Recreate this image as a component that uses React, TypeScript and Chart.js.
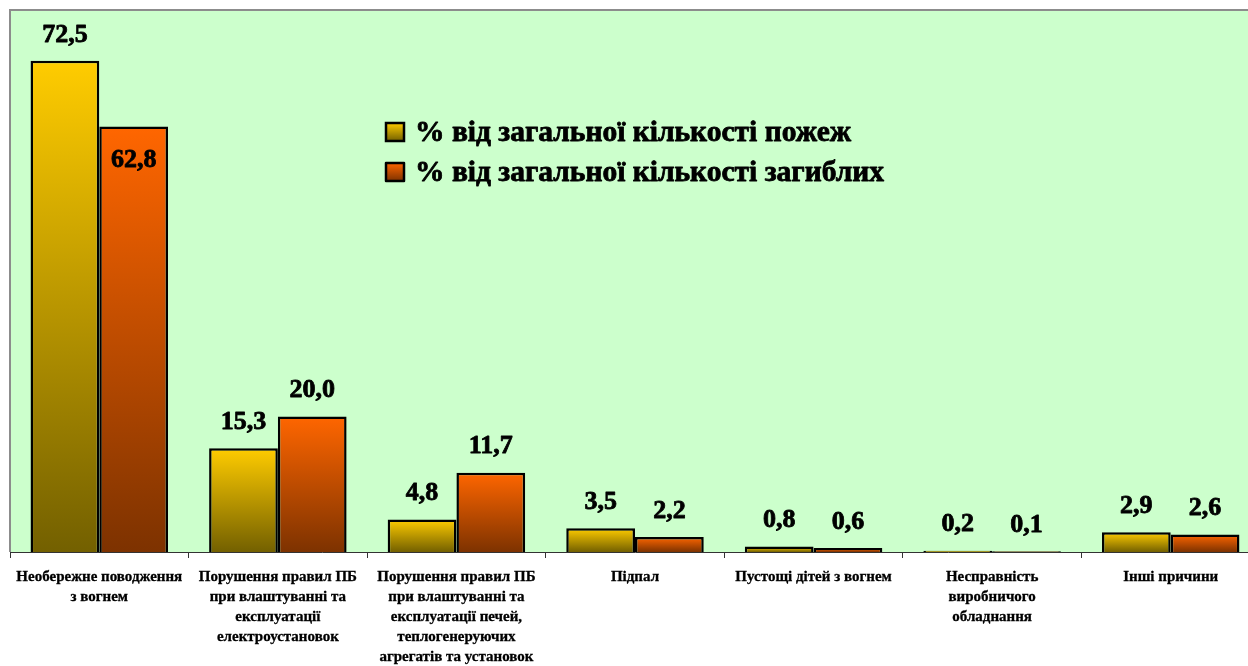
import React, { useEffect, useRef } from "react";
import { Chart, registerables } from "chart.js";

Chart.register(...registerables);

const categories: string[][] = [
  ["Необережне поводження", "з вогнем"],
  ["Порушення правил ПБ", "при влаштуванні та", "експлуатації", "електроустановок"],
  ["Порушення правил ПБ", "при влаштуванні та", "експлуатації печей,", "теплогенеруючих", "агрегатів та установок"],
  ["Підпал"],
  ["Пустощі дітей з вогнем"],
  ["Несправність", "виробничого", "обладнання"],
  ["Інші причини"],
];

const firesLabel = "% від загальної кількості пожеж";
const deathsLabel = "% від загальної кількості загиблих";
const firesValues = [72.5, 15.3, 4.8, 3.5, 0.8, 0.2, 2.9];
const deathsValues = [62.8, 20.0, 11.7, 2.2, 0.6, 0.1, 2.6];

const yMax = 80;

const SERIF = '"Liberation Serif", "Times New Roman", serif';
const gradStops = [
  ["#FFCC00", "#736000"],
  ["#FF6600", "#7D3200"],
];

function fmt(v: number) {
  return v.toFixed(1).replace(".", ",");
}

function makeBarGradient(dsIndex: number) {
  return (ctx: any) => {
    const chart = ctx.chart;
    if (!chart.chartArea || ctx.type !== "data") return gradStops[dsIndex][0];
    const y = chart.scales.y;
    const top = y.getPixelForValue(ctx.raw);
    const bottom = y.getPixelForValue(0);
    const g = chart.ctx.createLinearGradient(0, top, 0, Math.max(bottom, top + 1));
    g.addColorStop(0, gradStops[dsIndex][0]);
    g.addColorStop(1, gradStops[dsIndex][1]);
    return g;
  };
}

const plotBgPlugin = {
  id: "plotBg",
  beforeDraw(chart: any) {
    const { ctx, chartArea } = chart;
    ctx.save();
    ctx.fillStyle = "#CCFFCC";
    ctx.fillRect(chartArea.left, chartArea.top, chartArea.right - chartArea.left, chartArea.bottom - chartArea.top);
    ctx.strokeStyle = "#8C8C8C";
    ctx.lineWidth = 2;
    ctx.beginPath();
    ctx.moveTo(chartArea.left, chartArea.bottom);
    ctx.lineTo(chartArea.left, chartArea.top);
    ctx.lineTo(chartArea.right, chartArea.top);
    ctx.stroke();
    ctx.restore();
  },
};

function boldText(ctx: CanvasRenderingContext2D, text: string, x: number, y: number, size: number, stroke: number) {
  ctx.font = `bold ${size}px ${SERIF}`;
  if (stroke > 0) {
    ctx.lineWidth = stroke;
    ctx.strokeStyle = "#000";
    ctx.lineJoin = "round";
    ctx.strokeText(text, x, y);
  }
  ctx.fillText(text, x, y);
}

const valueLabelPlugin = {
  id: "valueLabels",
  afterDatasetsDraw(chart: any) {
    const { ctx } = chart;
    ctx.save();
    ctx.fillStyle = "#000";
    ctx.textAlign = "center";
    ctx.textBaseline = "middle";
    chart.data.datasets.forEach((ds: any, di: number) => {
      const meta = chart.getDatasetMeta(di);
      meta.data.forEach((el: any, i: number) => {
        const inside = di === 1 && i === 0;
        const y = inside ? el.y + 34 : el.y - 26;
        boldText(ctx, fmt(ds.data[i]), el.x, y, 26, 0.8);
      });
    });
    ctx.restore();
  },
};

const legendPlugin = {
  id: "customLegend",
  afterDraw(chart: any) {
    const { ctx } = chart;
    const x0 = 386;
    const rows = [132, 172];
    ctx.save();
    chart.data.datasets.forEach((ds: any, di: number) => {
      const cy = rows[di];
      const top = cy - 9;
      const g = ctx.createLinearGradient(0, top, 0, top + 18);
      g.addColorStop(0, gradStops[di][0]);
      g.addColorStop(1, gradStops[di][1]);
      ctx.fillStyle = g;
      ctx.fillRect(x0, top, 18, 18);
      ctx.strokeStyle = "#000";
      ctx.lineWidth = 2.5;
      ctx.strokeRect(x0, top, 18, 18);
      ctx.fillStyle = "#000";
      ctx.textAlign = "left";
      ctx.textBaseline = "middle";
      boldText(ctx, ds.label, x0 + 29, cy + 1, 29.5, 0.8);
    });
    ctx.restore();
  },
};

export default function App() {
  const ref = useRef<HTMLCanvasElement | null>(null);
  useEffect(() => {
    if (!ref.current) return;
    const chart = new Chart(ref.current, {
      type: "bar",
      data: {
        labels: categories,
        datasets: [
          {
            label: firesLabel,
            data: firesValues,
            backgroundColor: makeBarGradient(0),
            borderColor: "#000",
            borderWidth: 2.5,
            barPercentage: 1,
            categoryPercentage: 0.77,
          },
          {
            label: deathsLabel,
            data: deathsValues,
            backgroundColor: makeBarGradient(1),
            borderColor: "#000",
            borderWidth: 2.5,
            barPercentage: 1,
            categoryPercentage: 0.77,
          },
        ],
      },
      options: {
        responsive: false,
        animation: false,
        devicePixelRatio: 1,
        layout: { padding: { top: 10, left: 10, right: 2, bottom: 0 } },
        plugins: {
          legend: { display: false },
          tooltip: { enabled: false },
          title: { display: false },
        },
        scales: {
          x: {
            grid: {
              display: true,
              drawOnChartArea: false,
              drawTicks: true,
              tickLength: 6,
              color: "#333",
              offset: true,
            },
            border: { display: true, color: "#333", width: 1 },
            ticks: {
              autoSkip: false,
              maxRotation: 0,
              minRotation: 0,
              padding: 9,
              color: "#000",
              textStrokeColor: "#000",
              textStrokeWidth: 0.3,
              font: { family: SERIF, size: 15, weight: "bold", lineHeight: 20 / 15 },
            },
            afterFit(scale: any) {
              scale.height = 114;
              scale.paddingLeft = 0;
              scale.paddingRight = 0;
            },
          },
          y: {
            display: false,
            min: 0,
            max: yMax,
          },
        },
      },
      plugins: [plotBgPlugin, valueLabelPlugin, legendPlugin],
    } as any);
    return () => {
      chart.destroy();
    };
  }, []);
  return (
    <div style={{ position: "fixed", left: 0, top: 0, width: 1248, height: 666, overflow: "hidden", background: "#fff" }}>
      <canvas ref={ref} width={1262} height={666} style={{ display: "block" }} />
    </div>
  );
}
